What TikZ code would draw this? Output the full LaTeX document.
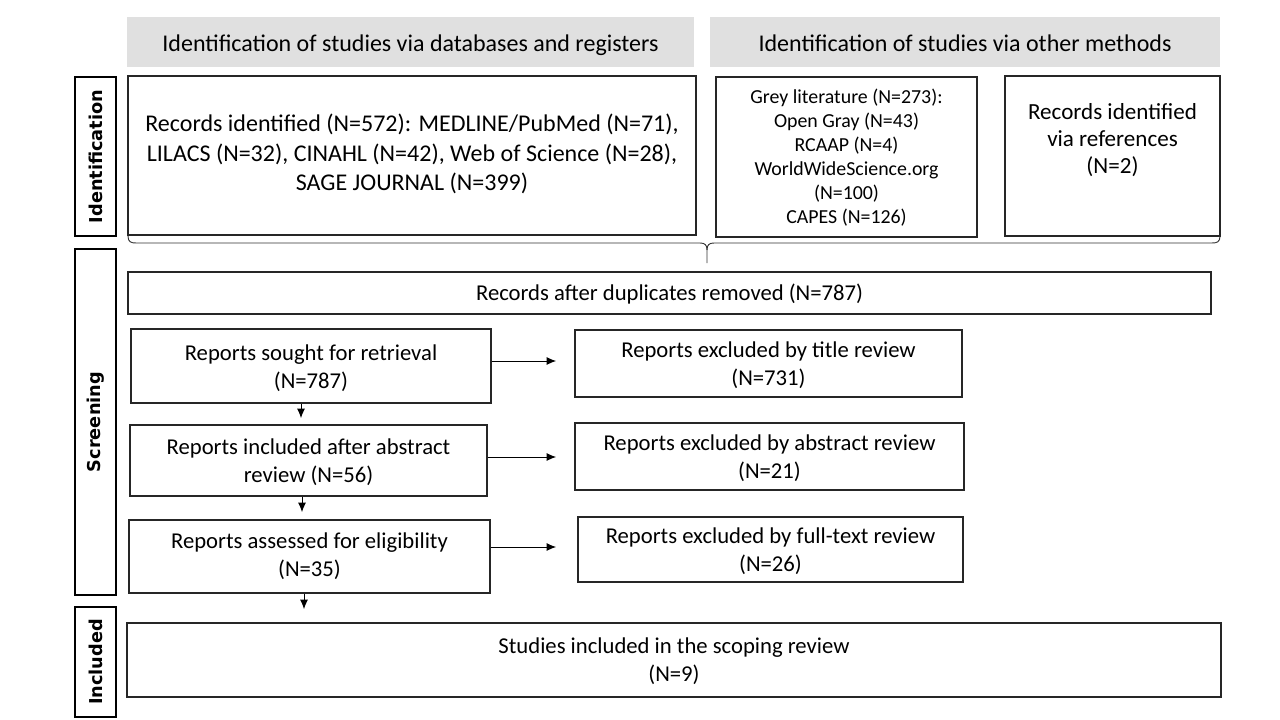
\documentclass[tikz,border=0pt]{standalone}
\usepackage{fontspec}
\setmainfont{Carlito}
\newfontfamily\sidefont{DejaVu Sans}
\usetikzlibrary{arrows.meta,fit}
\begin{document}
\begin{tikzpicture}[x=0.75pt,y=-0.75pt,
  box/.style={draw=black!85,line width=0.9pt,inner sep=0pt},
  hdr/.style={fill=black!12,draw=none,inner sep=0pt},
  txt/.style={align=center,font=\fontsize{17}{21}\selectfont},
  side/.style={draw=black,line width=0.9pt,inner sep=0pt},
  sidelab/.style={rotate=90,font=\sidefont\bfseries\fontsize{13.3}{15}\selectfont},
  arr/.style={-{Latex[length=7pt,width=6pt]},line width=0.7pt}]
\useasboundingbox (0,0) rectangle (1280,720);
% headers
\node[hdr,fit={(127,17) (694,67)}] (h1) {};
\node[anchor=base,font=\fontsize{18}{21.5}\selectfont] at (h1.center |- 0,51.5) {Identification of studies via databases and registers};
\node[hdr,fit={(710,17) (1220,67)}] (h2) {};
\node[anchor=base,font=\fontsize{18}{21.5}\selectfont] at (h2.center |- 0,51.5) {Identification of studies via other methods};
% side labels
\node[side,fit={(75,77) (116,236)}] (s1) {};
\node[sidelab] at (s1) {Identification};
\node[side,fit={(75,249) (116,595)}] (s2) {};
\node[sidelab] at (s2) {Screening};
\node[side,fit={(75,607) (116,717)}] (s3) {};
\node[sidelab] at (s3) {Included};
% identification boxes
\node[box,fit={(128,76) (696,235)}] (db) {};
\node[align=center,font=\fontsize{18}{22}\selectfont] (dbt) at (412,154) {Records identified (N=572): MEDLINE/PubMed (N=71),\\LILACS (N=32), CINAHL (N=42), Web of Science (N=28),\\SAGE JOURNAL (N=399)};
\node[box,fit={(716,77) (977,237)}] (grey) {};
\node[align=center,font=\fontsize{14.9}{18}\selectfont] (greyt) at (846.5,158) {Grey literature (N=273):\\Open Gray (N=43)\\RCAAP (N=4)\\WorldWideScience.org\\(N=100)\\CAPES (N=126)};
\node[box,fit={(1005,76) (1220,236)}] (refs) {};
\node[align=center,font=\fontsize{17.3}{20.5}\selectfont] (refst) at (1112.5,140) {Records identified\\via references\\(N=2)};
% brace
\coordinate (bl) at (128,236);
\coordinate (br) at (1220,236);
\coordinate (bt) at (707,263);
\draw[line width=0.7pt,black!80] (bl) .. controls (128,242) and (131,243) .. (136,243) -- (700,243) .. controls (705,243) and (707,245) .. (707,250) -- (bt);
\draw[line width=0.7pt,black!80] (707,250) .. controls (707,245) and (709,243) .. (714,243) -- (1212,243) .. controls (1217,243) and (1220,242) .. (br);
% screening
\node[box,fit={(128,272) (1211,314)}] (dup) {};
\node[txt] at (669.5,294) {Records after duplicates removed (N=787)};
\node[box,fit={(131,329) (491,403)}] (r1) {};
\node[txt] at (311,368) {Reports sought for retrieval\\(N=787)};
\node[box,fit={(575,330) (962,397)}] (e1) {};
\node[txt] at (768.5,365) {Reports excluded by title review\\(N=731)};
\node[box,fit={(130,425) (487,496)}] (r2) {};
\node[txt] at (308.5,462) {Reports included after abstract\\review (N=56)};
\node[box,fit={(575,423) (964,490)}] (e2) {};
\node[txt] at (769.5,458) {Reports excluded by abstract review\\(N=21)};
\node[box,fit={(129,520) (490,593)}] (r3) {};
\node[txt] at (309.5,556) {Reports assessed for eligibility\\(N=35)};
\node[box,fit={(578,517) (963,582)}] (e3) {};
\node[txt] at (770.5,551) {Reports excluded by full-text review\\(N=26)};
\node[box,fit={(127,623) (1221,697)}] (inc) {};
\node[txt] at (674,661) {Studies included in the scoping review\\(N=9)};
% arrows
\draw[arr] (r1.east |- 0,361) -- (556,361);
\draw[arr] (r2.east |- 0,457) -- (556,457);
\draw[arr] (r3.east |- 0,547) -- (556,547);
\draw[arr] (r1.south -| 301,0) -- (301,418);
\draw[arr] (r2.south -| 302,0) -- (302,512);
\draw[arr] (r3.south -| 304,0) -- (304,609);
\end{tikzpicture}
\end{document}
